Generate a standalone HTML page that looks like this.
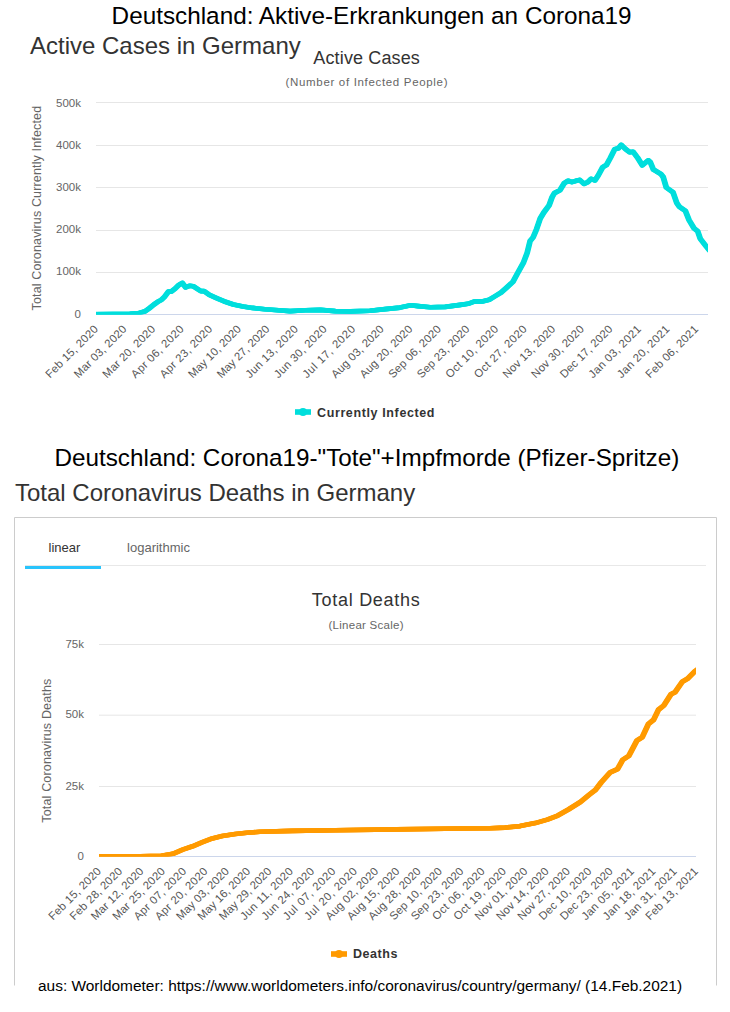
<!DOCTYPE html>
<html><head><meta charset="utf-8"><style>html,body{margin:0;padding:0;width:730px;height:1012px;overflow:hidden;background:#fff}</style></head>
<body><svg width="730" height="1012" viewBox="0 0 730 1012" style="position:absolute;left:0;top:0;font-family:'Liberation Sans', sans-serif"><rect x="0" y="0" width="730" height="1012" fill="#fff"/><text x="371.6" y="24" font-size="24.3" fill="#000" text-anchor="middle" font-weight="normal" >Deutschland: Aktive-Erkrankungen an Corona19</text><text x="30" y="54" font-size="24" fill="#333" text-anchor="start" font-weight="normal" >Active Cases in Germany</text><line x1="96" x2="708" y1="272.5" y2="272.5" stroke="#e6e6e6" stroke-width="1"/><line x1="96" x2="708" y1="230.5" y2="230.5" stroke="#e6e6e6" stroke-width="1"/><line x1="96" x2="708" y1="187.5" y2="187.5" stroke="#e6e6e6" stroke-width="1"/><line x1="96" x2="708" y1="145.5" y2="145.5" stroke="#e6e6e6" stroke-width="1"/><line x1="96" x2="708" y1="102.5" y2="102.5" stroke="#e6e6e6" stroke-width="1"/><line x1="96" x2="708" y1="314.5" y2="314.5" stroke="#ccd6eb" stroke-width="1"/><text x="81" y="317.9" font-size="11.5" fill="#666" text-anchor="end" font-weight="normal" >0</text><text x="81" y="275.0" font-size="11.5" fill="#666" text-anchor="end" font-weight="normal" >100k</text><text x="81" y="233.0" font-size="11.5" fill="#666" text-anchor="end" font-weight="normal" >200k</text><text x="81" y="190.5" font-size="11.5" fill="#666" text-anchor="end" font-weight="normal" >300k</text><text x="81" y="149.0" font-size="11.5" fill="#666" text-anchor="end" font-weight="normal" >400k</text><text x="81" y="107.2" font-size="11.5" fill="#666" text-anchor="end" font-weight="normal" >500k</text><text x="0" y="0" font-size="12.5" fill="#666" text-anchor="middle" font-weight="normal" textLength="204.6" lengthAdjust="spacing" transform="translate(40.7,208.2) rotate(-90)">Total Coronavirus Currently Infected</text><text x="366.6" y="64" font-size="18" fill="#333" text-anchor="middle" font-weight="normal" textLength="106.5" lengthAdjust="spacing" >Active Cases</text><text x="366.5" y="86" font-size="11.5" fill="#666" text-anchor="middle" font-weight="normal" textLength="162" lengthAdjust="spacing" >(Number of Infected People)</text><text x="0" y="0" font-size="11.3" fill="#555" text-anchor="end" font-weight="normal" textLength="69" lengthAdjust="spacing" transform="translate(98.7,329.9) rotate(-45)">Feb 15, 2020</text><text x="0" y="0" font-size="11.3" fill="#555" text-anchor="end" font-weight="normal" textLength="69" lengthAdjust="spacing" transform="translate(127.3,329.9) rotate(-45)">Mar 03, 2020</text><text x="0" y="0" font-size="11.3" fill="#555" text-anchor="end" font-weight="normal" textLength="69" lengthAdjust="spacing" transform="translate(155.9,329.9) rotate(-45)">Mar 20, 2020</text><text x="0" y="0" font-size="11.3" fill="#555" text-anchor="end" font-weight="normal" textLength="69" lengthAdjust="spacing" transform="translate(184.4,329.9) rotate(-45)">Apr 06, 2020</text><text x="0" y="0" font-size="11.3" fill="#555" text-anchor="end" font-weight="normal" textLength="69" lengthAdjust="spacing" transform="translate(213.0,329.9) rotate(-45)">Apr 23, 2020</text><text x="0" y="0" font-size="11.3" fill="#555" text-anchor="end" font-weight="normal" textLength="69" lengthAdjust="spacing" transform="translate(241.6,329.9) rotate(-45)">May 10, 2020</text><text x="0" y="0" font-size="11.3" fill="#555" text-anchor="end" font-weight="normal" textLength="69" lengthAdjust="spacing" transform="translate(270.2,329.9) rotate(-45)">May 27, 2020</text><text x="0" y="0" font-size="11.3" fill="#555" text-anchor="end" font-weight="normal" textLength="69" lengthAdjust="spacing" transform="translate(298.8,329.9) rotate(-45)">Jun 13, 2020</text><text x="0" y="0" font-size="11.3" fill="#555" text-anchor="end" font-weight="normal" textLength="69" lengthAdjust="spacing" transform="translate(327.4,329.9) rotate(-45)">Jun 30, 2020</text><text x="0" y="0" font-size="11.3" fill="#555" text-anchor="end" font-weight="normal" textLength="69" lengthAdjust="spacing" transform="translate(355.9,329.9) rotate(-45)">Jul 17, 2020</text><text x="0" y="0" font-size="11.3" fill="#555" text-anchor="end" font-weight="normal" textLength="69" lengthAdjust="spacing" transform="translate(384.5,329.9) rotate(-45)">Aug 03, 2020</text><text x="0" y="0" font-size="11.3" fill="#555" text-anchor="end" font-weight="normal" textLength="69" lengthAdjust="spacing" transform="translate(413.1,329.9) rotate(-45)">Aug 20, 2020</text><text x="0" y="0" font-size="11.3" fill="#555" text-anchor="end" font-weight="normal" textLength="69" lengthAdjust="spacing" transform="translate(441.7,329.9) rotate(-45)">Sep 06, 2020</text><text x="0" y="0" font-size="11.3" fill="#555" text-anchor="end" font-weight="normal" textLength="69" lengthAdjust="spacing" transform="translate(470.3,329.9) rotate(-45)">Sep 23, 2020</text><text x="0" y="0" font-size="11.3" fill="#555" text-anchor="end" font-weight="normal" textLength="69" lengthAdjust="spacing" transform="translate(498.9,329.9) rotate(-45)">Oct 10, 2020</text><text x="0" y="0" font-size="11.3" fill="#555" text-anchor="end" font-weight="normal" textLength="69" lengthAdjust="spacing" transform="translate(527.4,329.9) rotate(-45)">Oct 27, 2020</text><text x="0" y="0" font-size="11.3" fill="#555" text-anchor="end" font-weight="normal" textLength="69" lengthAdjust="spacing" transform="translate(556.0,329.9) rotate(-45)">Nov 13, 2020</text><text x="0" y="0" font-size="11.3" fill="#555" text-anchor="end" font-weight="normal" textLength="69" lengthAdjust="spacing" transform="translate(584.6,329.9) rotate(-45)">Nov 30, 2020</text><text x="0" y="0" font-size="11.3" fill="#555" text-anchor="end" font-weight="normal" textLength="69" lengthAdjust="spacing" transform="translate(613.2,329.9) rotate(-45)">Dec 17, 2020</text><text x="0" y="0" font-size="11.3" fill="#555" text-anchor="end" font-weight="normal" textLength="69" lengthAdjust="spacing" transform="translate(641.8,329.9) rotate(-45)">Jan 03, 2021</text><text x="0" y="0" font-size="11.3" fill="#555" text-anchor="end" font-weight="normal" textLength="69" lengthAdjust="spacing" transform="translate(670.3,329.9) rotate(-45)">Jan 20, 2021</text><text x="0" y="0" font-size="11.3" fill="#555" text-anchor="end" font-weight="normal" textLength="69" lengthAdjust="spacing" transform="translate(698.9,329.9) rotate(-45)">Feb 06, 2021</text><clipPath id="c41"><rect x="96" y="90" width="612" height="224.5"/></clipPath><g clip-path="url(#c41)"><path d="M94.0,314.2 L130.0,313.8 L138.6,313.2 L145.3,311.2 L149.2,308.4 L154.0,304.5 L158.8,301.2 L161.6,299.7 L164.5,296.8 L168.4,291.6 L171.2,291.6 L175.1,288.7 L178.9,284.9 L182.3,282.9 L185.6,287.3 L189.4,285.8 L193.3,286.3 L200.8,291.1 L204.1,291.1 L209.4,294.9 L217.1,298.3 L223.8,301.2 L233.4,304.5 L243.0,306.4 L252.5,307.9 L265.0,309.3 L275.0,310.0 L290.1,311.1 L305.2,310.3 L320.3,309.9 L335.3,311.1 L350.4,311.4 L370.0,310.7 L385.1,309.1 L400.1,307.6 L410.7,305.3 L418.2,306.1 L430.3,307.3 L445.3,306.9 L460.4,304.9 L468.0,303.8 L474.0,301.6 L482.1,301.4 L489.2,299.7 L495.2,296.1 L501.1,292.5 L507.0,287.2 L512.9,281.9 L517.7,273.0 L523.6,262.3 L527.2,252.8 L530.1,241.0 L533.1,237.4 L536.6,229.1 L540.2,218.5 L543.8,212.5 L549.1,205.4 L552.1,197.1 L554.4,193.1 L559.9,190.3 L564.2,183.2 L568.1,180.8 L571.9,182.1 L576.3,180.8 L579.6,179.9 L584.0,183.8 L587.8,182.1 L591.1,178.8 L594.9,180.5 L598.2,175.5 L602.6,167.3 L606.4,165.1 L610.3,158.0 L614.7,149.2 L618.5,148.2 L621.2,144.9 L625.6,149.2 L629.9,152.3 L633.0,151.7 L637.3,157.3 L642.3,165.3 L648.4,160.3 L650.3,162.2 L653.4,169.6 L660.8,173.9 L663.2,177.0 L666.3,187.5 L673.1,192.4 L676.8,202.9 L679.2,206.6 L685.4,210.9 L689.1,220.1 L694.0,228.2 L697.7,231.2 L700.2,238.6 L706.4,246.6 L710.0,251.0" transform="translate(-0.6,0)" fill="none" stroke="#00dedc" stroke-width="4.6" stroke-linejoin="round" stroke-linecap="butt"/><path d="M94.0,314.2 L130.0,313.8 L138.6,313.2 L145.3,311.2 L149.2,308.4 L154.0,304.5 L158.8,301.2 L161.6,299.7 L164.5,296.8 L168.4,291.6 L171.2,291.6 L175.1,288.7 L178.9,284.9 L182.3,282.9 L185.6,287.3 L189.4,285.8 L193.3,286.3 L200.8,291.1 L204.1,291.1 L209.4,294.9 L217.1,298.3 L223.8,301.2 L233.4,304.5 L243.0,306.4 L252.5,307.9 L265.0,309.3 L275.0,310.0 L290.1,311.1 L305.2,310.3 L320.3,309.9 L335.3,311.1 L350.4,311.4 L370.0,310.7 L385.1,309.1 L400.1,307.6 L410.7,305.3 L418.2,306.1 L430.3,307.3 L445.3,306.9 L460.4,304.9 L468.0,303.8 L474.0,301.6 L482.1,301.4 L489.2,299.7 L495.2,296.1 L501.1,292.5 L507.0,287.2 L512.9,281.9 L517.7,273.0 L523.6,262.3 L527.2,252.8 L530.1,241.0 L533.1,237.4 L536.6,229.1 L540.2,218.5 L543.8,212.5 L549.1,205.4 L552.1,197.1 L554.4,193.1 L559.9,190.3 L564.2,183.2 L568.1,180.8 L571.9,182.1 L576.3,180.8 L579.6,179.9 L584.0,183.8 L587.8,182.1 L591.1,178.8 L594.9,180.5 L598.2,175.5 L602.6,167.3 L606.4,165.1 L610.3,158.0 L614.7,149.2 L618.5,148.2 L621.2,144.9 L625.6,149.2 L629.9,152.3 L633.0,151.7 L637.3,157.3 L642.3,165.3 L648.4,160.3 L650.3,162.2 L653.4,169.6 L660.8,173.9 L663.2,177.0 L666.3,187.5 L673.1,192.4 L676.8,202.9 L679.2,206.6 L685.4,210.9 L689.1,220.1 L694.0,228.2 L697.7,231.2 L700.2,238.6 L706.4,246.6 L710.0,251.0" transform="translate(0,0)" fill="none" stroke="#00dedc" stroke-width="4.6" stroke-linejoin="round" stroke-linecap="butt"/><path d="M94.0,314.2 L130.0,313.8 L138.6,313.2 L145.3,311.2 L149.2,308.4 L154.0,304.5 L158.8,301.2 L161.6,299.7 L164.5,296.8 L168.4,291.6 L171.2,291.6 L175.1,288.7 L178.9,284.9 L182.3,282.9 L185.6,287.3 L189.4,285.8 L193.3,286.3 L200.8,291.1 L204.1,291.1 L209.4,294.9 L217.1,298.3 L223.8,301.2 L233.4,304.5 L243.0,306.4 L252.5,307.9 L265.0,309.3 L275.0,310.0 L290.1,311.1 L305.2,310.3 L320.3,309.9 L335.3,311.1 L350.4,311.4 L370.0,310.7 L385.1,309.1 L400.1,307.6 L410.7,305.3 L418.2,306.1 L430.3,307.3 L445.3,306.9 L460.4,304.9 L468.0,303.8 L474.0,301.6 L482.1,301.4 L489.2,299.7 L495.2,296.1 L501.1,292.5 L507.0,287.2 L512.9,281.9 L517.7,273.0 L523.6,262.3 L527.2,252.8 L530.1,241.0 L533.1,237.4 L536.6,229.1 L540.2,218.5 L543.8,212.5 L549.1,205.4 L552.1,197.1 L554.4,193.1 L559.9,190.3 L564.2,183.2 L568.1,180.8 L571.9,182.1 L576.3,180.8 L579.6,179.9 L584.0,183.8 L587.8,182.1 L591.1,178.8 L594.9,180.5 L598.2,175.5 L602.6,167.3 L606.4,165.1 L610.3,158.0 L614.7,149.2 L618.5,148.2 L621.2,144.9 L625.6,149.2 L629.9,152.3 L633.0,151.7 L637.3,157.3 L642.3,165.3 L648.4,160.3 L650.3,162.2 L653.4,169.6 L660.8,173.9 L663.2,177.0 L666.3,187.5 L673.1,192.4 L676.8,202.9 L679.2,206.6 L685.4,210.9 L689.1,220.1 L694.0,228.2 L697.7,231.2 L700.2,238.6 L706.4,246.6 L710.0,251.0" transform="translate(0.6,0)" fill="none" stroke="#00dedc" stroke-width="4.6" stroke-linejoin="round" stroke-linecap="butt"/></g><rect x="295" y="409.2" width="16" height="5.6" fill="#00dedc"/><circle cx="303" cy="412" r="4" fill="#00dedc"/><text x="317" y="416.5" font-size="12.5" fill="#333" text-anchor="start" font-weight="bold" textLength="117.5" lengthAdjust="spacing" >Currently Infected</text><text x="366.9" y="466" font-size="24.27" fill="#000" text-anchor="middle" font-weight="normal" >Deutschland: Corona19-&quot;Tote&quot;+Impfmorde (Pfizer-Spritze)</text><text x="15" y="500.5" font-size="24" fill="#333" text-anchor="start" font-weight="normal" >Total Coronavirus Deaths in Germany</text><path d="M14.5,985.5 V517.5 H716.5 V985.5" fill="none" stroke="#ccc" stroke-width="1"/><line x1="25" x2="706" y1="565.5" y2="565.5" stroke="#e8e8e8" stroke-width="1"/><rect x="25" y="566" width="76" height="3" fill="#29c4fc"/><text x="64.5" y="552" font-size="13" fill="#333" text-anchor="middle" font-weight="normal" >linear</text><text x="158.5" y="552" font-size="13" fill="#666" text-anchor="middle" font-weight="normal" >logarithmic</text><line x1="99" x2="696" y1="786.5" y2="786.5" stroke="#e6e6e6" stroke-width="1"/><line x1="99" x2="696" y1="715.2" y2="715.2" stroke="#e6e6e6" stroke-width="1"/><line x1="99" x2="696" y1="644.5" y2="644.5" stroke="#e6e6e6" stroke-width="1"/><line x1="99" x2="696" y1="856.5" y2="856.5" stroke="#ccd6eb" stroke-width="1"/><text x="84" y="859.7" font-size="11.5" fill="#666" text-anchor="end" font-weight="normal" >0</text><text x="84" y="789.7" font-size="11.5" fill="#666" text-anchor="end" font-weight="normal" >25k</text><text x="84" y="718.4" font-size="11.5" fill="#666" text-anchor="end" font-weight="normal" >50k</text><text x="84" y="647.7" font-size="11.5" fill="#666" text-anchor="end" font-weight="normal" >75k</text><text x="0" y="0" font-size="12.5" fill="#666" text-anchor="middle" font-weight="normal" textLength="144" lengthAdjust="spacing" transform="translate(51.3,750.7) rotate(-90)">Total Coronavirus Deaths</text><text x="365.8" y="606" font-size="18" fill="#333" text-anchor="middle" font-weight="normal" textLength="108" lengthAdjust="spacing" >Total Deaths</text><text x="366" y="629" font-size="11.5" fill="#666" text-anchor="middle" font-weight="normal" textLength="75" lengthAdjust="spacing" >(Linear Scale)</text><text x="0" y="0" font-size="11.3" fill="#555" text-anchor="end" font-weight="normal" textLength="69" lengthAdjust="spacing" transform="translate(101.7,872.0) rotate(-45)">Feb 15, 2020</text><text x="0" y="0" font-size="11.3" fill="#555" text-anchor="end" font-weight="normal" textLength="69" lengthAdjust="spacing" transform="translate(123.0,872.0) rotate(-45)">Feb 28, 2020</text><text x="0" y="0" font-size="11.3" fill="#555" text-anchor="end" font-weight="normal" textLength="69" lengthAdjust="spacing" transform="translate(144.3,872.0) rotate(-45)">Mar 12, 2020</text><text x="0" y="0" font-size="11.3" fill="#555" text-anchor="end" font-weight="normal" textLength="69" lengthAdjust="spacing" transform="translate(165.7,872.0) rotate(-45)">Mar 25, 2020</text><text x="0" y="0" font-size="11.3" fill="#555" text-anchor="end" font-weight="normal" textLength="69" lengthAdjust="spacing" transform="translate(187.0,872.0) rotate(-45)">Apr 07, 2020</text><text x="0" y="0" font-size="11.3" fill="#555" text-anchor="end" font-weight="normal" textLength="69" lengthAdjust="spacing" transform="translate(208.3,872.0) rotate(-45)">Apr 20, 2020</text><text x="0" y="0" font-size="11.3" fill="#555" text-anchor="end" font-weight="normal" textLength="69" lengthAdjust="spacing" transform="translate(229.6,872.0) rotate(-45)">May 03, 2020</text><text x="0" y="0" font-size="11.3" fill="#555" text-anchor="end" font-weight="normal" textLength="69" lengthAdjust="spacing" transform="translate(250.9,872.0) rotate(-45)">May 16, 2020</text><text x="0" y="0" font-size="11.3" fill="#555" text-anchor="end" font-weight="normal" textLength="69" lengthAdjust="spacing" transform="translate(272.3,872.0) rotate(-45)">May 29, 2020</text><text x="0" y="0" font-size="11.3" fill="#555" text-anchor="end" font-weight="normal" textLength="69" lengthAdjust="spacing" transform="translate(293.6,872.0) rotate(-45)">Jun 11, 2020</text><text x="0" y="0" font-size="11.3" fill="#555" text-anchor="end" font-weight="normal" textLength="69" lengthAdjust="spacing" transform="translate(314.9,872.0) rotate(-45)">Jun 24, 2020</text><text x="0" y="0" font-size="11.3" fill="#555" text-anchor="end" font-weight="normal" textLength="69" lengthAdjust="spacing" transform="translate(336.2,872.0) rotate(-45)">Jul 07, 2020</text><text x="0" y="0" font-size="11.3" fill="#555" text-anchor="end" font-weight="normal" textLength="69" lengthAdjust="spacing" transform="translate(357.6,872.0) rotate(-45)">Jul 20, 2020</text><text x="0" y="0" font-size="11.3" fill="#555" text-anchor="end" font-weight="normal" textLength="69" lengthAdjust="spacing" transform="translate(378.9,872.0) rotate(-45)">Aug 02, 2020</text><text x="0" y="0" font-size="11.3" fill="#555" text-anchor="end" font-weight="normal" textLength="69" lengthAdjust="spacing" transform="translate(400.2,872.0) rotate(-45)">Aug 15, 2020</text><text x="0" y="0" font-size="11.3" fill="#555" text-anchor="end" font-weight="normal" textLength="69" lengthAdjust="spacing" transform="translate(421.5,872.0) rotate(-45)">Aug 28, 2020</text><text x="0" y="0" font-size="11.3" fill="#555" text-anchor="end" font-weight="normal" textLength="69" lengthAdjust="spacing" transform="translate(442.8,872.0) rotate(-45)">Sep 10, 2020</text><text x="0" y="0" font-size="11.3" fill="#555" text-anchor="end" font-weight="normal" textLength="69" lengthAdjust="spacing" transform="translate(464.2,872.0) rotate(-45)">Sep 23, 2020</text><text x="0" y="0" font-size="11.3" fill="#555" text-anchor="end" font-weight="normal" textLength="69" lengthAdjust="spacing" transform="translate(485.5,872.0) rotate(-45)">Oct 06, 2020</text><text x="0" y="0" font-size="11.3" fill="#555" text-anchor="end" font-weight="normal" textLength="69" lengthAdjust="spacing" transform="translate(506.8,872.0) rotate(-45)">Oct 19, 2020</text><text x="0" y="0" font-size="11.3" fill="#555" text-anchor="end" font-weight="normal" textLength="69" lengthAdjust="spacing" transform="translate(528.1,872.0) rotate(-45)">Nov 01, 2020</text><text x="0" y="0" font-size="11.3" fill="#555" text-anchor="end" font-weight="normal" textLength="69" lengthAdjust="spacing" transform="translate(549.5,872.0) rotate(-45)">Nov 14, 2020</text><text x="0" y="0" font-size="11.3" fill="#555" text-anchor="end" font-weight="normal" textLength="69" lengthAdjust="spacing" transform="translate(570.8,872.0) rotate(-45)">Nov 27, 2020</text><text x="0" y="0" font-size="11.3" fill="#555" text-anchor="end" font-weight="normal" textLength="69" lengthAdjust="spacing" transform="translate(592.1,872.0) rotate(-45)">Dec 10, 2020</text><text x="0" y="0" font-size="11.3" fill="#555" text-anchor="end" font-weight="normal" textLength="69" lengthAdjust="spacing" transform="translate(613.4,872.0) rotate(-45)">Dec 23, 2020</text><text x="0" y="0" font-size="11.3" fill="#555" text-anchor="end" font-weight="normal" textLength="69" lengthAdjust="spacing" transform="translate(634.7,872.0) rotate(-45)">Jan 05, 2021</text><text x="0" y="0" font-size="11.3" fill="#555" text-anchor="end" font-weight="normal" textLength="69" lengthAdjust="spacing" transform="translate(656.1,872.0) rotate(-45)">Jan 18, 2021</text><text x="0" y="0" font-size="11.3" fill="#555" text-anchor="end" font-weight="normal" textLength="69" lengthAdjust="spacing" transform="translate(677.4,872.0) rotate(-45)">Jan 31, 2021</text><text x="0" y="0" font-size="11.3" fill="#555" text-anchor="end" font-weight="normal" textLength="69" lengthAdjust="spacing" transform="translate(698.7,872.0) rotate(-45)">Feb 13, 2021</text><clipPath id="c95"><rect x="99" y="630" width="597" height="226.5"/></clipPath><g clip-path="url(#c95)"><path d="M97.0,856.3 L140.0,856.2 L161.4,855.8 L172.9,853.8 L182.7,849.6 L192.6,846.3 L202.5,842.2 L212.3,838.4 L222.2,836.1 L235.3,834.0 L246.9,832.8 L260.0,831.8 L292.2,830.9 L335.0,830.2 L395.7,829.4 L461.5,828.5 L490.0,828.2 L505.1,827.6 L520.1,826.1 L535.2,823.1 L547.3,819.6 L557.8,815.6 L568.4,809.5 L580.4,802.0 L589.5,794.5 L595.5,789.9 L601.1,782.5 L610.3,772.3 L617.5,769.2 L622.7,759.9 L628.8,755.8 L637.0,740.4 L642.2,737.3 L648.4,724.0 L653.5,719.9 L658.6,709.6 L663.8,705.5 L671.0,694.2 L675.1,692.1 L682.3,681.8 L687.4,678.8 L694.6,671.6 L698.0,669.0" transform="translate(-0.6,0)" fill="none" stroke="#ff9a00" stroke-width="4.6" stroke-linejoin="round" stroke-linecap="butt"/><path d="M97.0,856.3 L140.0,856.2 L161.4,855.8 L172.9,853.8 L182.7,849.6 L192.6,846.3 L202.5,842.2 L212.3,838.4 L222.2,836.1 L235.3,834.0 L246.9,832.8 L260.0,831.8 L292.2,830.9 L335.0,830.2 L395.7,829.4 L461.5,828.5 L490.0,828.2 L505.1,827.6 L520.1,826.1 L535.2,823.1 L547.3,819.6 L557.8,815.6 L568.4,809.5 L580.4,802.0 L589.5,794.5 L595.5,789.9 L601.1,782.5 L610.3,772.3 L617.5,769.2 L622.7,759.9 L628.8,755.8 L637.0,740.4 L642.2,737.3 L648.4,724.0 L653.5,719.9 L658.6,709.6 L663.8,705.5 L671.0,694.2 L675.1,692.1 L682.3,681.8 L687.4,678.8 L694.6,671.6 L698.0,669.0" transform="translate(0,0)" fill="none" stroke="#ff9a00" stroke-width="4.6" stroke-linejoin="round" stroke-linecap="butt"/><path d="M97.0,856.3 L140.0,856.2 L161.4,855.8 L172.9,853.8 L182.7,849.6 L192.6,846.3 L202.5,842.2 L212.3,838.4 L222.2,836.1 L235.3,834.0 L246.9,832.8 L260.0,831.8 L292.2,830.9 L335.0,830.2 L395.7,829.4 L461.5,828.5 L490.0,828.2 L505.1,827.6 L520.1,826.1 L535.2,823.1 L547.3,819.6 L557.8,815.6 L568.4,809.5 L580.4,802.0 L589.5,794.5 L595.5,789.9 L601.1,782.5 L610.3,772.3 L617.5,769.2 L622.7,759.9 L628.8,755.8 L637.0,740.4 L642.2,737.3 L648.4,724.0 L653.5,719.9 L658.6,709.6 L663.8,705.5 L671.0,694.2 L675.1,692.1 L682.3,681.8 L687.4,678.8 L694.6,671.6 L698.0,669.0" transform="translate(0.6,0)" fill="none" stroke="#ff9a00" stroke-width="4.6" stroke-linejoin="round" stroke-linecap="butt"/></g><rect x="331" y="951.2" width="16" height="5.6" fill="#ff9a00"/><circle cx="339" cy="954" r="4" fill="#ff9a00"/><text x="353" y="958" font-size="12.5" fill="#333" text-anchor="start" font-weight="bold" textLength="44.4" lengthAdjust="spacing" >Deaths</text><rect x="0" y="986" width="730" height="26" fill="#fff"/><text x="38" y="991" font-size="15.45" fill="#000" text-anchor="start" font-weight="normal" >aus: Worldometer: https://www.worldometers.info/coronavirus/country/germany/ (14.Feb.2021)</text></svg></body></html>
